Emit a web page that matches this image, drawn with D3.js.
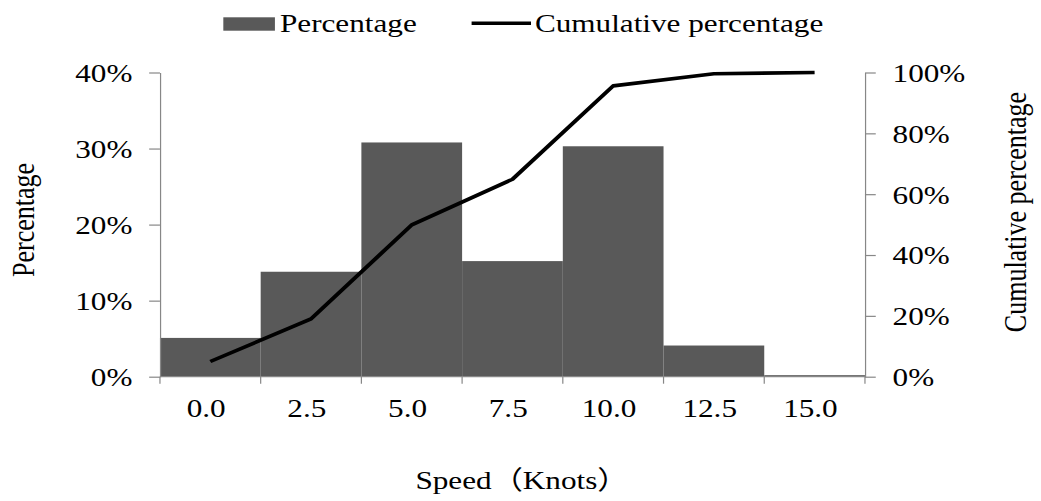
<!DOCTYPE html>
<html>
<head>
<meta charset="utf-8">
<script src="https://cdn.jsdelivr.net/npm/d3@7"></script>
<style>
  html, body { margin: 0; padding: 0; background: #fff; }
  svg { display: block; }
  text { font-family: "Liberation Serif", "Times New Roman", serif; fill: #000; }
</style>
</head>
<body>
<svg id="chart"></svg>
<script>
// Speed classes (knots) and their share of observations
const speeds = ["0.0", "2.5", "5.0", "7.5", "10.0", "12.5", "15.0"];
const percentage = [0.051, 0.138, 0.308, 0.152, 0.303, 0.041, 0.002];
const cumulative = [0.050, 0.190, 0.499, 0.649, 0.956, 0.996, 1.000];
const leftTicks = [0, 0.1, 0.2, 0.3, 0.4];
const rightTicks = [0, 0.2, 0.4, 0.6, 0.8, 1.0];

const W = 1041, H = 501, sx = 1.2;           // drawing is stretched horizontally
const VW = W / sx;
const svg = d3.select("#chart")
  .attr("width", W).attr("height", H)
  .attr("viewBox", `0 0 ${VW} ${H}`)
  .attr("preserveAspectRatio", "none");

const plot = { left: 133.3, right: 720.8, top: 72.5, bottom: 376.7 };
const axisColor = "#878787";
const fontSize = 26;
const serif = "\"Liberation Serif\", \"Times New Roman\", serif";
const cjk = "\"Noto Sans CJK SC\", sans-serif";

const x = d3.scaleBand().domain(speeds).range([plot.left, plot.right]).padding(0);
const yL = d3.scaleLinear().domain([0, 0.4]).range([plot.bottom, plot.top]);
const yR = d3.scaleLinear().domain([0, 1]).range([plot.bottom, plot.top]);

// Bars
svg.append("g").selectAll("rect")
  .data(speeds)
  .join("rect")
  .attr("x", d => x(d))
  .attr("width", x.bandwidth())
  .attr("y", (d, i) => yL(percentage[i]))
  .attr("height", (d, i) => plot.bottom - yL(percentage[i]))
  .attr("fill", "#595959");

// Left axis
const gL = svg.append("g")
  .attr("transform", `translate(${plot.left},0)`)
  .call(d3.axisLeft(yL).tickValues(leftTicks).tickFormat(d3.format(".0%"))
    .tickSize(9).tickSizeOuter(0).tickPadding(14));
// Right axis
const gR = svg.append("g")
  .attr("transform", `translate(${plot.right},0)`)
  .call(d3.axisRight(yR).tickValues(rightTicks).tickFormat(d3.format(".0%"))
    .tickSize(9).tickSizeOuter(0).tickPadding(14));

// Bottom axis: labels at band centres, ticks at band boundaries
const gB = svg.append("g")
  .attr("transform", `translate(0,${plot.bottom})`)
  .call(d3.axisBottom(x).tickSize(0).tickPadding(21.5));
gB.select(".domain").remove();
gB.selectAll("text").attr("dx", -3.5);
const bounds = speeds.map(d => x(d)).concat([x.range()[1]]);
gB.selectAll("line.bound")
  .data(bounds)
  .join("line")
  .attr("class", "bound")
  .attr("x1", d => d).attr("x2", d => d)
  .attr("y1", 0).attr("y2", 7);
gB.append("line")
  .attr("x1", plot.left).attr("x2", plot.right)
  .attr("y1", 0).attr("y2", 0);

[gL, gR, gB].forEach(g => {
  g.selectAll("path, line")
    .attr("stroke", axisColor)
    .attr("stroke-width", 1.2)
    .attr("vector-effect", "non-scaling-stroke");
  g.selectAll("text")
    .attr("font-size", fontSize)
    .attr("font-family", serif)
    .attr("fill", "#000");
});
gL.selectAll("text").attr("dy", "0.34em");
gR.selectAll("text").attr("dy", "0.34em");

// Cumulative line
const line = d3.line()
  .x((d, i) => x(speeds[i]) + x.bandwidth() / 2)
  .y(d => yR(d));
svg.append("path")
  .datum(cumulative)
  .attr("d", line)
  .attr("fill", "none")
  .attr("stroke", "#000")
  .attr("stroke-width", 3.6)
  .attr("stroke-linejoin", "round");

// Axis titles
svg.append("text")
  .attr("transform", `translate(28.3,220) rotate(-90)`)
  .attr("text-anchor", "middle")
  .attr("font-size", fontSize)
  .attr("font-family", serif)
  .text("Percentage");
svg.append("text")
  .attr("transform", `translate(855,212) rotate(-90)`)
  .attr("text-anchor", "middle")
  .attr("font-size", fontSize)
  .attr("font-family", serif)
  .text("Cumulative percentage");
const xTitle = svg.append("text")
  .attr("x", 435).attr("y", 489)
  .attr("text-anchor", "middle")
  .attr("font-size", fontSize);
[["Speed", serif], ["（", cjk], ["Knots", serif], ["）", cjk]].forEach(([t, f]) => {
  xTitle.append("tspan").attr("font-family", f).text(t);
});

// Legend
const legend = svg.append("g");
legend.append("rect")
  .attr("x", 186.1).attr("y", 17.3)
  .attr("width", 43).attr("height", 13.4)
  .attr("fill", "#595959");
legend.append("text")
  .attr("x", 233.3).attr("y", 32.3)
  .attr("font-size", fontSize)
  .attr("font-family", serif)
  .text("Percentage");
legend.append("line")
  .attr("x1", 393).attr("x2", 442.5)
  .attr("y1", 23.3).attr("y2", 23.3)
  .attr("stroke", "#000").attr("stroke-width", 3.4);
legend.append("text")
  .attr("x", 445.8).attr("y", 32.3)
  .attr("font-size", fontSize)
  .attr("font-family", serif)
  .text("Cumulative percentage");
</script>
</body>
</html>
